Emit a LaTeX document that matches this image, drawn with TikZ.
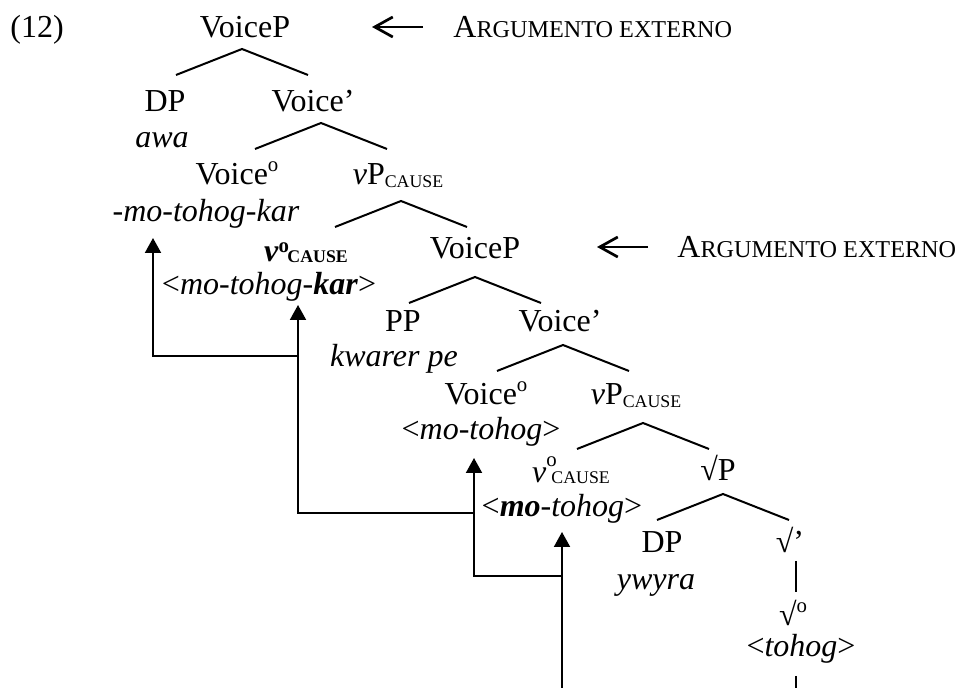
\documentclass[tikz,border=0pt]{standalone}
\usepackage{fontspec}
\setmainfont{Liberation Serif}
\usepackage{tikz}
\usetikzlibrary{arrows.meta}
\newcommand\grau{\raisebox{0.42em}{\fontsize{10.4}{10}\selectfont o}}
\newcommand\grauc{\raisebox{0.5em}{\fontsize{10.4}{10}\selectfont o}}
\newcommand\graub{\raisebox{0.3em}{\fontsize{10.4}{10}\selectfont o}}
\newcommand\causa{{\fontsize{8.9}{9}\selectfont CAUSE}}
\newcommand\argext{A{\fontsize{12.1}{12}\selectfont RGUMENTO EXTERNO}}

\begin{document}
\begin{tikzpicture}[x=0.5pt,y=-0.5pt,
  rotulo/.style={anchor=base,inner sep=0pt,font=\fontsize{16}{19}\selectfont},
  galho/.style={line width=1pt},
  seta/.style={line width=1pt,-{Triangle[length=7.5pt,width=8pt]}},
  volta/.style={line width=1.35pt,-{Straight Barb[length=9pt,width=10pt]}}]
\useasboundingbox (0,0) rectangle (970,688);
% arvore
\node[rotulo,anchor=base west] (ex) at (10,38) {(12)};
\node[rotulo] (vp1) at (245,38) {VoiceP};
\node[rotulo,anchor=base west] (arg1) at (453,38) {\argext};
\node[rotulo] (dp1) at (165,112) {DP};
\node[rotulo] (vbar1) at (313,112) {Voice’};
\node[rotulo] (awa) at (162,148) {\textit{awa}};
\node[rotulo] (vhead1) at (237,185) {Voice\grau};
\node[rotulo] (vpc1) at (398,185) {\textit{v}P\raisebox{-1.5pt}{\causa}};
\node[rotulo] (morph1) at (206,222) {\textit{-mo-tohog-kar}};
\node[rotulo] (vc1) at (306,262) {\bfseries\textit{v}\graub\kern-0.8pt\raisebox{-0.5pt}{\causa}};
\node[rotulo] (vp2) at (475,259) {VoiceP};
\node[rotulo,anchor=base west] (arg2) at (677,258) {\argext};
\node[rotulo] (morph2) at (269,295) {<\textit{mo-tohog-\textbf{kar}}>};
\node[rotulo] (pp) at (403,332) {PP};
\node[rotulo] (vbar2) at (560,332) {Voice’};
\node[rotulo] (kwarer) at (394,367) {\textit{kwarer pe}};
\node[rotulo] (vhead2) at (486,405) {Voice\grau};
\node[rotulo] (vpc2) at (636,405) {\textit{v}P\raisebox{-1.5pt}{\causa}};
\node[rotulo] (morph3) at (481,440) {<\textit{mo-tohog}>};
\node[rotulo] (vc2) at (571,483) {\textit{v}\rlap{\grauc}\kern2.5pt\raisebox{-0.5pt}{\causa}};
\node[rotulo] (rp) at (718,481) {√P};
\node[rotulo] (morph4) at (562,517) {<\textit{\textbf{mo}-tohog}>};
\node[rotulo] (dp3) at (662,553) {DP};
\node[rotulo] (rbar) at (790,553) {√’};
\node[rotulo] (ywyra) at (656,590) {\textit{ywyra}};
\node[rotulo] (rhead) at (793,626) {√\grau};
\node[rotulo] (tohog) at (801,657) {<\textit{tohog}>};
% galhos
\foreach \n/\dx/\dy in {vp1/-3/11, vbar1/8/11, vpc1/3/16, vp2/0/18, vbar2/3/13, vpc2/7/18, rp/5/13}
  \draw[galho] (\n.base) ++(\dx-66,\dy+26) -- ++(66,-26) -- ++(66,26);
\draw[galho] (rbar.base) ++(6,8) -- ++(0,31);
\draw[galho] (tohog.base) ++(-5,19) -- ++(0,14);
% movimento do nucleo
\path (morph1.base) ++(-53,16) coordinate (t1);
\path (morph2.base) ++(29,10) coordinate (t2);
\path (morph3.base) ++(-7,18) coordinate (t3);
\path (morph4.base) ++(0,15) coordinate (t4);
\coordinate (fim) at (t4 |- 0,688);
\draw[seta] (fim) -- (t4);
\draw[seta] (t4 |- 0,576) -| (t3);
\draw[seta] (t3 |- 0,513) -| (t2);
\draw[seta] (t2 |- 0,356) -| (t1);
% argumento externo
\draw[volta] (arg1.base west) ++(-30,-11) -- ++(-51,0);
\draw[volta] (arg2.base west) ++(-29,-11) -- ++(-51,0);
\end{tikzpicture}
\end{document}
